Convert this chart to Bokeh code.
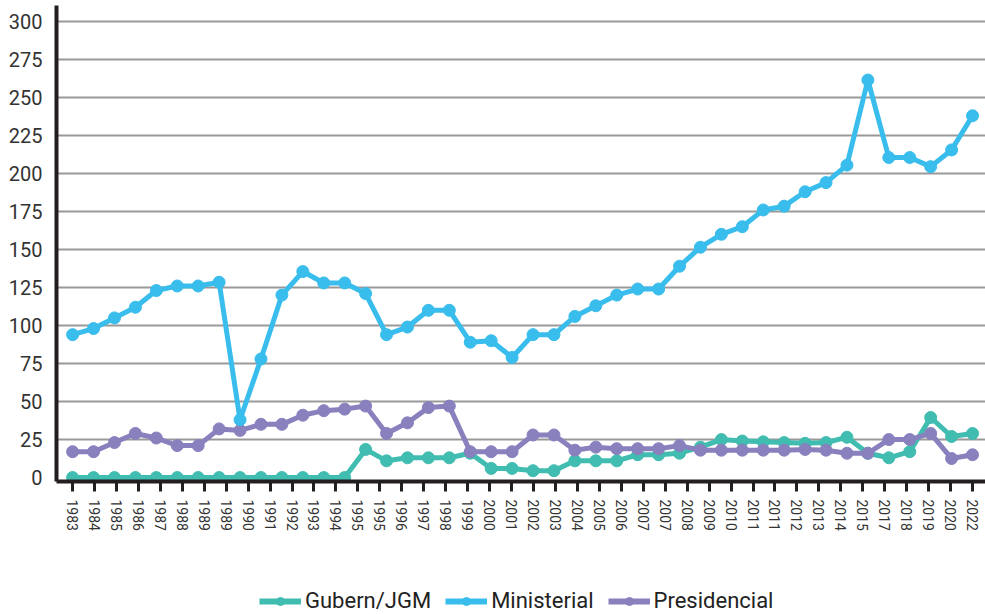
from bokeh.plotting import figure
from bokeh.layouts import column
from bokeh.models import (Range1d, LinearAxis, FixedTicker, Legend, LegendItem)
from bokeh.embed import file_html
from bokeh.resources import INLINE

# tick labels shown on the category axis (42 labels)
labels = ["1983", "1984", "1985", "1986", "1987", "1988", "1989", "1989", "1990",
          "1991", "1992", "1993", "1994", "1995", "1995", "1996", "1997", "1998",
          "1999", "2000", "2001", "2002", "2003", "2004", "2005", "2006", "2007",
          "2007", "2008", "2009", "2010", "2011", "2011", "2012", "2013", "2014",
          "2015", "2017", "2018", "2019", "2020", "2022"]

# series values (44 points each)
gubern = [0, 0, 0, 0, 0, 0, 0, 0, 0, 0, 0, 0, 0, 0, 18.5, 11, 13, 13, 13, 16,
          6, 6, 4.5, 4.5, 11, 11, 11, 15, 15, 16, 20, 25, 24, 23.5, 23, 22.5,
          23, 26.5, 16, 13, 17, 39.5, 27, 29]
ministerial = [94, 98, 105, 112, 123, 126, 126, 128.5, 38, 78, 120, 135.5, 128,
               128, 121, 94, 99, 110, 110, 89, 90, 79, 94, 94, 106, 113, 120,
               124, 124, 139, 151.5, 160, 165, 176, 178.5, 188, 194, 205.5,
               261.5, 210.5, 210.5, 204.5, 215.5, 238]
presidencial = [17, 17, 23, 29, 26, 21, 21, 32, 31, 35, 35, 41, 44, 45, 47, 29,
                36, 46, 47, 17, 17, 17, 28, 28, 18, 20, 19, 19, 19, 21, 18, 18,
                18, 18, 18, 18.5, 18, 16, 16, 25, 25, 29, 12.5, 15]
y_ticks = [0, 25, 50, 75, 100, 125, 150, 175, 200, 225, 250, 275, 300]
series_names = ["Gubern/JGM", "Ministerial", "Presidencial"]

n = len(ministerial)
xs = list(range(n))

W = 985
H1, H2 = 560, 54
LEFT, TOP = 56, 5
BOTTOM = H1 - 481

p = figure(width=W, height=H1, output_backend="svg", toolbar_location=None,
           x_axis_location=None,
           x_range=Range1d(-0.77, n - 1 + 0.62),
           y_range=Range1d(-2.6, 310.5),
           min_border_left=LEFT, min_border_right=0,
           min_border_top=TOP, min_border_bottom=BOTTOM)
p.outline_line_color = None
p.background_fill_color = "white"
p.border_fill_color = "white"

# label axis on its own range so the 42 labels span the same width as 44 points
nl = len(labels)
p.extra_x_ranges = {"lab": Range1d(-0.73, nl - 1 + 0.59)}
xax = LinearAxis(x_range_name="lab", ticker=FixedTicker(ticks=list(range(nl))),
                 major_label_overrides={i: s for i, s in enumerate(labels)})
xax.axis_line_color = "#231f20"
xax.axis_line_width = 4
xax.major_tick_line_color = "#231f20"
xax.major_tick_line_width = 3
xax.major_tick_in = 0
xax.major_tick_out = 10
xax.minor_tick_line_color = None
xax.major_label_orientation = "vertical"
xax.major_label_text_font = "Roboto"
xax.major_label_text_font_size = "14px"
xax.major_label_text_color = "#333333"
xax.major_label_standoff = 8
p.add_layout(xax, "below")

yax = p.yaxis[0]
yax.ticker = FixedTicker(ticks=y_ticks)
yax.axis_line_color = "#231f20"
yax.axis_line_width = 4
yax.major_tick_line_color = None
yax.minor_tick_line_color = None
yax.major_label_text_font = "Roboto"
yax.major_label_text_font_size = "20px"
yax.major_label_text_color = "#333333"
yax.major_label_standoff = 8

p.ygrid.ticker = FixedTicker(ticks=y_ticks[1:])
p.ygrid.grid_line_color = "#999999"
p.ygrid.grid_line_width = 2
p.xgrid.grid_line_color = None

c_g, c_m, c_p = "#40bdb0", "#38bdec", "#8980be"

p.line(xs, gubern, line_color=c_g, line_width=5)
p.scatter(xs, gubern, size=12, fill_color=c_g, line_color=c_g)
p.line(xs, presidencial, line_color=c_p, line_width=5)
p.scatter(xs, presidencial, size=12, fill_color=c_p, line_color=c_p)
p.line(xs, ministerial, line_color=c_m, line_width=5)
p.scatter(xs, ministerial, size=12, fill_color=c_m, line_color=c_m)

# legend strip below the chart (its proxy glyphs sit outside the visible range)
q = figure(width=W, height=H2, output_backend="svg", toolbar_location=None,
           x_axis_location=None, y_axis_location=None,
           x_range=Range1d(0, 1), y_range=Range1d(0, 1),
           min_border_left=0, min_border_right=0,
           min_border_top=0, min_border_bottom=0)
q.outline_line_color = None
q.xgrid.grid_line_color = None
q.ygrid.grid_line_color = None
items = []
for name, col in zip(series_names, [c_g, c_m, c_p]):
    rl = q.line([5, 6], [5, 5], line_color=col, line_width=6)
    rs = q.scatter([5], [5], size=12, fill_color=col, line_color=col)
    items.append(LegendItem(label=name, renderers=[rl, rs]))

legend = Legend(items=items, orientation="horizontal", location=(203, 1))
legend.padding = 0
legend.margin = 0
legend.spacing = 14
legend.border_line_color = None
legend.background_fill_alpha = 0
legend.glyph_width = 42
legend.glyph_height = 20
legend.label_standoff = 4
legend.label_text_font = "Roboto"
legend.label_text_font_size = "22px"
legend.label_text_color = "#222222"
q.add_layout(legend, "center")

layout = column(p, q, spacing=0)
open("out.html", "w").write(file_html(layout, INLINE))
